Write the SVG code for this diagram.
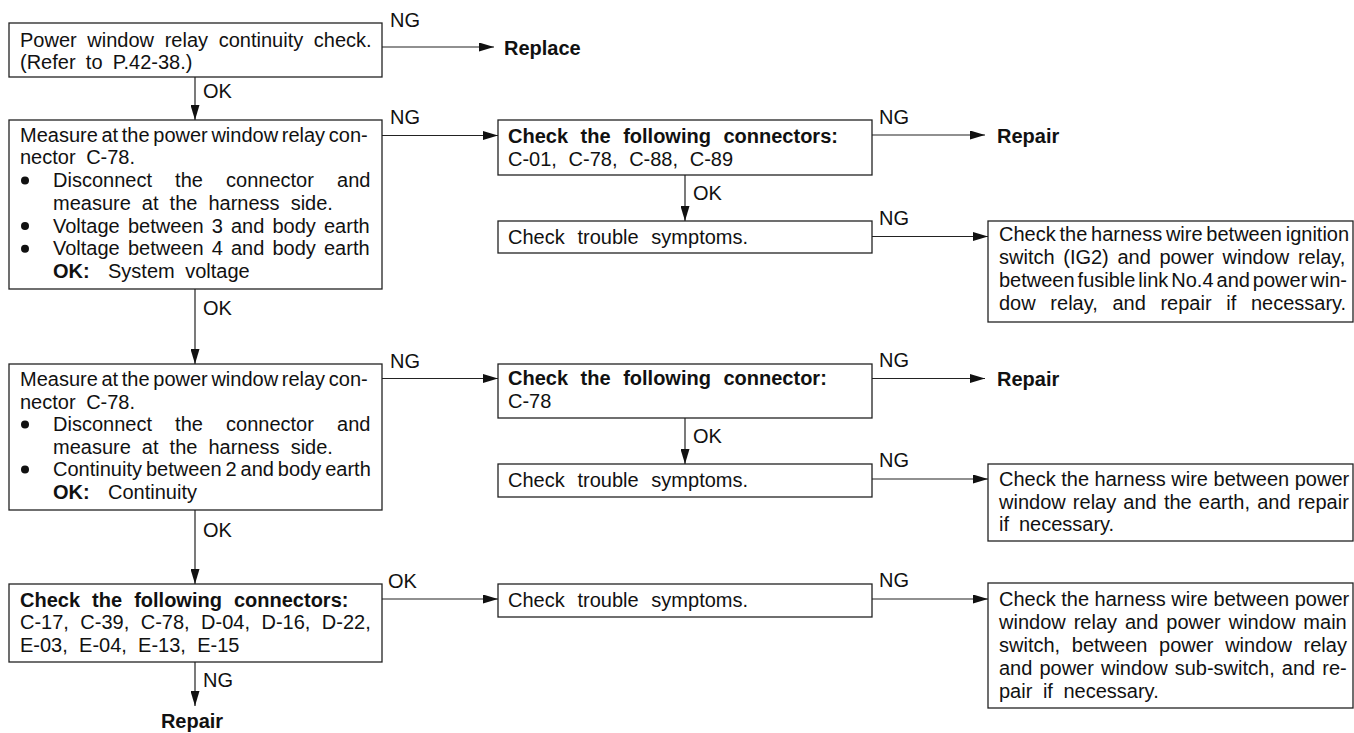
<svg xmlns="http://www.w3.org/2000/svg" width="1354" height="733" viewBox="0 0 1354 733">
<style>
.box{fill:#fff;stroke:#222;stroke-width:1.3}
.t{font-family:"Liberation Sans",Arial,sans-serif;font-size:20px;fill:#111}
.b{font-weight:bold}
.conn line{stroke:#222;stroke-width:1.2;fill:none}
.dot{fill:#111}
</style>
<defs>
<marker id="ah" markerUnits="userSpaceOnUse" markerWidth="15" markerHeight="9" refX="15" refY="4.5" orient="auto">
<path d="M0,0 L15,4.5 L0,9 z" fill="#111"/>
</marker>
</defs>
<rect width="1354" height="733" fill="#fff"/>

<g class="conn">
<line x1="382" y1="47" x2="494" y2="47" marker-end="url(#ah)"/>
<line x1="195" y1="77" x2="195" y2="120" marker-end="url(#ah)"/>
<line x1="382" y1="135.5" x2="498" y2="135.5" marker-end="url(#ah)"/>
<line x1="872" y1="135" x2="985" y2="135" marker-end="url(#ah)"/>
<line x1="685" y1="175" x2="685" y2="221" marker-end="url(#ah)"/>
<line x1="872" y1="236.5" x2="988" y2="236.5" marker-end="url(#ah)"/>
<line x1="195" y1="289" x2="195" y2="364" marker-end="url(#ah)"/>
<line x1="382" y1="378.5" x2="498" y2="378.5" marker-end="url(#ah)"/>
<line x1="872" y1="378.5" x2="985" y2="378.5" marker-end="url(#ah)"/>
<line x1="685" y1="418" x2="685" y2="464" marker-end="url(#ah)"/>
<line x1="872" y1="479" x2="988" y2="479" marker-end="url(#ah)"/>
<line x1="195" y1="510" x2="195" y2="584" marker-end="url(#ah)"/>
<line x1="382" y1="599" x2="498" y2="599" marker-end="url(#ah)"/>
<line x1="872" y1="599" x2="988" y2="599" marker-end="url(#ah)"/>
<line x1="195" y1="662" x2="195" y2="706" marker-end="url(#ah)"/>
</g>

<g id="labels">
<text class="t" x="390" y="27">NG</text>
<text class="t b" x="504" y="54.5">Replace</text>
<text class="t" x="203" y="98">OK</text>
<text class="t" x="390" y="124">NG</text>
<text class="t" x="879" y="123.5">NG</text>
<text class="t b" x="997" y="142.7">Repair</text>
<text class="t" x="693" y="200">OK</text>
<text class="t" x="879" y="225">NG</text>
<text class="t" x="203" y="315">OK</text>
<text class="t" x="390" y="367.5">NG</text>
<text class="t" x="879" y="366.5">NG</text>
<text class="t b" x="997" y="386">Repair</text>
<text class="t" x="693" y="442.7">OK</text>
<text class="t" x="879" y="467.3">NG</text>
<text class="t" x="203" y="536.7">OK</text>
<text class="t" x="388" y="588">OK</text>
<text class="t" x="879" y="586.7">NG</text>
<text class="t" x="203" y="686.7">NG</text>
<text class="t b" x="192" y="728" text-anchor="middle">Repair</text>
</g>

<g id="n1">
<rect class="box" x="9" y="23" width="373" height="54"/>
<text class="t" x="20" y="47" word-spacing="5.1">Power window relay continuity check.</text>
<text class="t" x="20" y="68.5" word-spacing="4.7">(Refer to P.42-38.)</text>
</g>

<g id="n2">
<rect class="box" x="9" y="120" width="373" height="169"/>
<text class="t" x="20" y="141.7" word-spacing="-1.9">Measure at the power window relay con-</text>
<text class="t" x="20" y="164.4" word-spacing="5">nector C-78.</text>
<circle class="dot" cx="25" cy="180.6" r="4"/>
<text class="t" x="53" y="187.1" word-spacing="17.6">Disconnect the connector and</text>
<text class="t" x="53" y="209.8" word-spacing="5.5">measure at the harness side.</text>
<circle class="dot" cx="25" cy="226" r="4"/>
<text class="t" x="53" y="232.5" word-spacing="2.6">Voltage between 3 and body earth</text>
<circle class="dot" cx="25" cy="248.7" r="4"/>
<text class="t" x="53" y="255.2" word-spacing="2.6">Voltage between 4 and body earth</text>
<text class="t" y="277.9"><tspan x="53" class="b">OK:</tspan><tspan x="108" word-spacing="5">System voltage</tspan></text>
</g>

<g id="n3">
<rect class="box" x="9" y="364" width="373" height="146"/>
<text class="t" x="20" y="386" word-spacing="-1.9">Measure at the power window relay con-</text>
<text class="t" x="20" y="408.5" word-spacing="5">nector C-78.</text>
<circle class="dot" cx="25" cy="424.5" r="4"/>
<text class="t" x="53" y="431" word-spacing="17.6">Disconnect the connector and</text>
<text class="t" x="53" y="453.5" word-spacing="5.5">measure at the harness side.</text>
<circle class="dot" cx="25" cy="469.5" r="4"/>
<text class="t" x="53" y="476" word-spacing="-1.6">Continuity between 2 and body earth</text>
<text class="t" y="498.5"><tspan x="53" class="b">OK:</tspan><tspan x="108">Continuity</tspan></text>
</g>

<g id="n4">
<rect class="box" x="9" y="584" width="373" height="78"/>
<text class="t b" x="20" y="606.7" word-spacing="6.5">Check the following connectors:</text>
<text class="t" x="20" y="629.3" word-spacing="5.9">C-17, C-39, C-78, D-04, D-16, D-22,</text>
<text class="t" x="20" y="651.9" word-spacing="5.7">E-03, E-04, E-13, E-15</text>
</g>

<g id="n5">
<rect class="box" x="498" y="120" width="374" height="55"/>
<text class="t b" x="508" y="143.3" word-spacing="7">Check the following connectors:</text>
<text class="t" x="508" y="165.5" word-spacing="6.1">C-01, C-78, C-88, C-89</text>
</g>

<g id="n6">
<rect class="box" x="498" y="221" width="374" height="32"/>
<text class="t" x="508" y="244" word-spacing="7.2">Check trouble symptoms.</text>
</g>

<g id="n7">
<rect class="box" x="988" y="221" width="365" height="101"/>
<text class="t" x="999" y="240.7" word-spacing="-1.8">Check the harness wire between ignition</text>
<text class="t" x="999" y="263.5" word-spacing="3.1">switch (IG2) and power window relay,</text>
<text class="t" x="999" y="286.5" word-spacing="-2.6">between fusible link No.4 and power win-</text>
<text class="t" x="999" y="309.5" word-spacing="9.1">dow relay, and repair if necessary.</text>
</g>

<g id="n8">
<rect class="box" x="498" y="364" width="374" height="54"/>
<text class="t b" x="508" y="385" word-spacing="7">Check the following connector:</text>
<text class="t" x="508" y="408">C-78</text>
</g>

<g id="n9">
<rect class="box" x="498" y="464" width="374" height="33"/>
<text class="t" x="508" y="486.7" word-spacing="7.2">Check trouble symptoms.</text>
</g>

<g id="n10">
<rect class="box" x="988" y="464" width="365" height="77"/>
<text class="t" x="999" y="485.7" word-spacing="0">Check the harness wire between power</text>
<text class="t" x="999" y="508.5" word-spacing="1.6">window relay and the earth, and repair</text>
<text class="t" x="999" y="531.3" word-spacing="4.4">if necessary.</text>
</g>

<g id="n11">
<rect class="box" x="498" y="584" width="374" height="33"/>
<text class="t" x="508" y="606.7" word-spacing="7.2">Check trouble symptoms.</text>
</g>

<g id="n12">
<rect class="box" x="988" y="583" width="365" height="125"/>
<text class="t" x="999" y="606" word-spacing="0">Check the harness wire between power</text>
<text class="t" x="999" y="629" word-spacing="2.4">window relay and power window main</text>
<text class="t" x="999" y="652" word-spacing="6.1">switch, between power window relay</text>
<text class="t" x="999" y="675" word-spacing="1.5">and power window sub-switch, and re-</text>
<text class="t" x="999" y="698" word-spacing="5">pair if necessary.</text>
</g>
</svg>
